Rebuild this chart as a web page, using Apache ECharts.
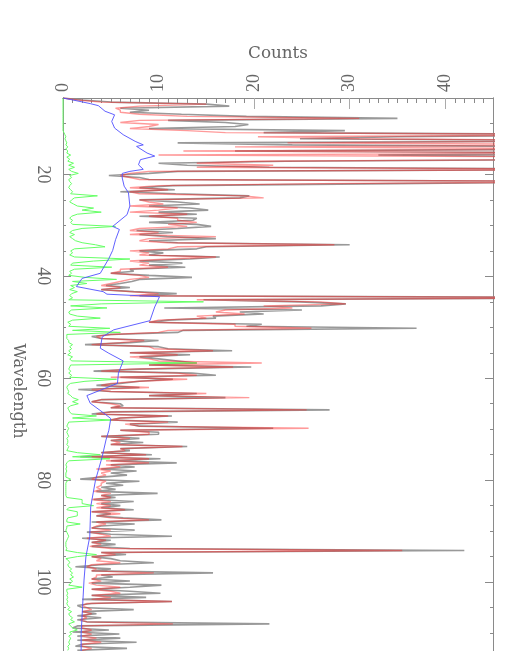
<!DOCTYPE html>
<html><head><meta charset="utf-8">
<style>html,body{margin:0;padding:0;background:#fff;overflow:hidden}#c{width:525px;height:651px}</style>
<script src="https://cdn.jsdelivr.net/npm/echarts@6/dist/echarts.min.js"></script>
</head><body><div id="c"></div>
<script>
const waveStart = 5, waveBin = 0.4;
const countTicks = [0, 10, 20, 30, 40];
const waveTicks = [20, 40, 60, 80, 100];
const grayCounts = [
0,2,5,15,17.4, 6,9,7,12.4,19.2, 35,11,17,19.4,18, 9,29.5,21,60,35,
24.8,60,12,24,60, 60,18,60,33,60, 60,23.3,10,13,21.6, 60,12,9,4.8,8,
9,60,34.7,11.5,8, 11.7,6,11.8,19.5,18.5, 8,12,14.3,9,13.3, 15.2,10,14,8,14,
13.6,9,14,15.5,12, 7.7,11.5,8,10.9,16, 9,12,30,15,14, 8,10.5,9,16.4,13.3,
8,12.5,9,12.8,7, 7.4,5,9,13.5,8, 7.2,6,4.5,7,4, 7.4,11.9,8,60,14.7,
24.8,29.6,27,10.6,25, 18.5,21,15.7,16,11, 9,20.8,19.2,37,12.6, 12,5,3,4,10,
7,2.3,10,11,17.7, 7,13.3,8,10,12, 14,9,19.7,8,3.2, 13.5,16,6,11.5,8,
6,3.5,8,1.6,5, 14,9,17,4,3, 6,6.3,5,27.9,5, 3,11.4,6,5,12,
7,8,22,6,10, 10,4,8,5,8.4, 5,13,6,7,4, 9.3,1.8,10.2,5,11.9,
5,7.5,4,7.7,5, 6.7,4,1.8,8,4.5, 6.3,4,5.5,3.5,9.9, 4,5.5,3.2,7.4,4,
6,4,7.4,3,5, 3.5,6.3,10.3,3,7.5, 4,3,7.5,2.5,5, 11.4,2,5,3,5.5,
3,7,42,4,6.6, 3,5,6,9.5,4, 1.3,5,3,15.7,4, 5.2,3,7,3,10.3,
7,3,7,10.2,3, 8.7,2,11.4,3,1.5, 2,7.4,2,3.5,1.5, 4,1.5,2.5,21.6,1.5,
1,4.8,1,5.9,1.5, 6,1.5,7.7,2,1.3, 6.7,1.5
];
const redCounts = [
0,1.5,4,15,8, 5.5,6,6,8,13, 31,8,6,10,9, 7,13,17,60,20.4,
31,60,23.5,60,18, 60,12.6,60,10,60, 60,20,14,22,14, 60,9,7,6,7,
8,60,27,10,7, 11,7,8,19,21, 8,9,10.5,7,12, 10,7,13,9,12,
12,14,11,13,8, 7,10,7,16,9, 8,11,28.4,12,11, 7,9,8,16,11,
7,9,8,11,6, 6,5,8,9,7, 6,5,4,6,4, 7,10,7,60,14,
27,29.6,21,24,17, 16,19,14,15,10, 9,18,18,26,11, 10,5,3.5,4,8.5,
6,3,9,9.5,15.7, 7,12,7,9,10, 20.8,9,17.8,7,4, 12,14,5,13,8,
5,4,9,3,5, 15,9,19.5,4,3, 5,6,5,25.5,5, 3.5,11,6,5,11,
6.5,8,25.7,6,9, 9,4,7,5,6, 5,12.5,6,6.5,4, 8.7,3,9,4.5,9,
4.5,6,3.5,5,4, 4.5,3.5,3,4.5,4, 4,3.5,4,3.2,5, 4,5,3,5,3.5,
5,3.5,6.5,3,6, 3.5,5,9,3.5,4.5, 3.5,3,5,2.8,4, 5,2.5,4.5,3,4,
2.8,5,35.5,4,5.5, 3,4,3.5,6,3, 2.5,3.5,3,9.5,3.5, 3.5,3,4,2.7,3.5,
6,3,5,6,3, 5,3,11.4,2.5,2, 2.5,3,2,3,2, 2.5,1.8,2.5,11.5,2,
2,3,2,3,2, 3.5,2,4,2,2, 3,2
];
const greenCounts = [
0,0,0,0,0, 0,0,0,0,0, 0,0,0,0,0, 0,0,.1,.2,.3,
.2,.3,.4,.3,.5, .3,.5,.4,.8,.4, .7,.5,1.1,.6,1.2, .6,.9,1.6,.7,.9,
.6,.7,.9,.7,.6, .8,1,.8,3.6,1.2, .9,.7,1.1,1.5,3.2, 2,4,1.5,.9,.7,
1,.8,1,5.5,2, 1,.7,1.2,.7,1, 1.3,2,3.4,4.4,1.2, .8,1,.7,1.2,7,
3.2,1,.8,5.1,1.2, .7,.9,.6,2.3,5.6, 1,2.5,.8,1.2,.7, 1.5,.9,.7,1,.6,
14.7,4,.8,4.6,.9, .6,.7,1.5,3.9,1, .5,.8,.6,4.9,1, 6,.4,.4,.4,.6,
.6,1,.7,.9,.6, .8,.5,1,.7,.9, 14,.8,.7,.6,.8, .6,.9,.7,5.6,2.3,
.8,.5,.4,.5,.6, .5,.8,1,1.6,1, 1.6,.8,.5,.6,.7, .9,3.5,1,5.1,.6,
.5,.4,.6,.5,.4, .5,.6,.4,.5,.5, .4,.6,.5,.4,1.5, 3.9,1,4.9,.6,.4,
.3,.4,.3,.4,.3, .3,.3,.8,.4,.3, .3,.3,.3,.3,.3, .3,.4,2,2,2,
3.2,.6,.4,1.5,1.5, 1.5,.5,.4,.4,1.8, .4,.4,.3,.4,.5, .6,.5,.4,.3,.3,
.3,.4,.3,1.5,3.5, 1.5,.3,.6,.7,.5, .6,.9,.7,1,.8, 1.1,.7,1,.8,.6,
2,.4,.4,.5,.4, .5,.4,.5,.4,.5, .7,.5,.9,.6,.7, 1,.8,1.2,.6,.8,
1,1.5,.7,.9,.6, .8,.7,.6,.7,.5, .6,.5
];
const blueWave = [5,5.3,6.1,6.5,7.6,8.3,9.6,10.9,12.2,13.5,14.2,14.5,15.8,16.4,17.1,18.1,19,19.4,19.8,20.7,22.3,23.6,26.2,27.9,30.2,30.8,32.8,34.9,36.5,39.4,40.4,42,43,43.5,44,46,48.7,50.5,51.9,54.1,55.1,56.6,59,61,63.4,64.9,66.6,67.9,70.2,72.1,75.4,80,85.2,91.1,95,99.6,104.8,110.1,113.5];
const blueCounts = [0,.8,2.85,3.7,4.4,5.4,5.1,5.4,6.3,7.55,8.4,7.7,8.8,9.6,8.1,7.9,8.4,7,6.2,6.2,6.4,6.85,7,6.7,5.2,5.9,5.5,5.2,4.8,3.9,2,1.4,4.2,4.6,10.1,9.6,9.1,5.3,4.1,3.9,4.8,6.3,5.8,5.7,2.5,2.85,4.1,5,4.8,4.5,4.1,3.4,2.9,2.8,2.4,2.2,2.05,1.9,1.9];

const binned = arr => arr.map((v, i) => [v, waveStart + i * waveBin]);
const axisGrey = '#8a8a8a', textGrey = '#666';
const labelFont = {fontFamily: 'Liberation Serif', fontSize: 18, color: textGrey};
const line = {lineStyle: {color: axisGrey, width: 1}};
const xBase = {type: 'value', position: 'top', min: 0, max: 45, splitLine: {show: false}, axisLine: line};
const yBase = {type: 'value', inverse: true, min: 5, max: 120, splitLine: {show: false}, axisLine: line};
const mk = (name, data, color, opacity, width) => ({
  name, type: 'line', data, showSymbol: false, symbol: 'none', silent: true, animation: false, clip: true,
  lineStyle: {color, width, opacity}
});
const chart = echarts.init(document.getElementById('c'), null, {renderer: 'canvas'});
chart.setOption({
  animation: false,
  backgroundColor: '#fff',
  grid: {left: 63, top: 98, right: 32, bottom: -33, containLabel: false, outerBoundsMode: 'none'},
  xAxis: [
    Object.assign({}, xBase, {
      interval: 1,
      name: 'Counts', nameLocation: 'middle', nameGap: 36,
      nameTextStyle: {fontFamily: 'DejaVu Serif', fontSize: 16.8, color: textGrey},
      axisTick: {inside: true, length: 5, lineStyle: {color: axisGrey}},
      axisLabel: Object.assign({rotate: -90, margin: 6, customValues: countTicks}, labelFont)
    }),
    Object.assign({}, xBase, {
      interval: 10,
      axisTick: {inside: true, length: 11, lineStyle: {color: '#aaa', width: 1}, customValues: countTicks.slice(1)},
      axisLabel: {show: false}
    })
  ],
  yAxis: [
    Object.assign({}, yBase, {
      position: 'left', interval: 5,
      name: 'Wavelength', nameLocation: 'middle', nameGap: 34, nameRotate: -90,
      nameTextStyle: {fontFamily: 'DejaVu Serif', fontSize: 16, color: textGrey},
      axisTick: {inside: true, length: 3, lineStyle: {color: axisGrey}},
      axisLabel: Object.assign({rotate: -90, margin: 11, customValues: waveTicks}, labelFont)
    }),
    Object.assign({}, yBase, {
      position: 'left', axisLabel: {show: false},
      axisTick: {inside: true, length: 8, lineStyle: {color: axisGrey}, customValues: waveTicks}
    }),
    Object.assign({}, yBase, {
      position: 'right', interval: 5, axisLabel: {show: false},
      axisTick: {inside: true, length: 3, lineStyle: {color: axisGrey}}
    }),
    Object.assign({}, yBase, {
      position: 'right', axisLabel: {show: false},
      axisTick: {inside: true, length: 8, lineStyle: {color: axisGrey}, customValues: waveTicks}
    })
  ],
  series: [
    mk('Observed', binned(grayCounts), '#939393', 0.95, 1.6),
    mk('Low', binned(greenCounts), '#66ff66', 1, 1),
    mk('Model', binned(redCounts), '#ff2020', 0.45, 1.4),
    mk('Continuum', blueWave.map((w, i) => [blueCounts[i], w]), '#5050ff', 0.9, 1)
  ]
});
</script></body></html>
